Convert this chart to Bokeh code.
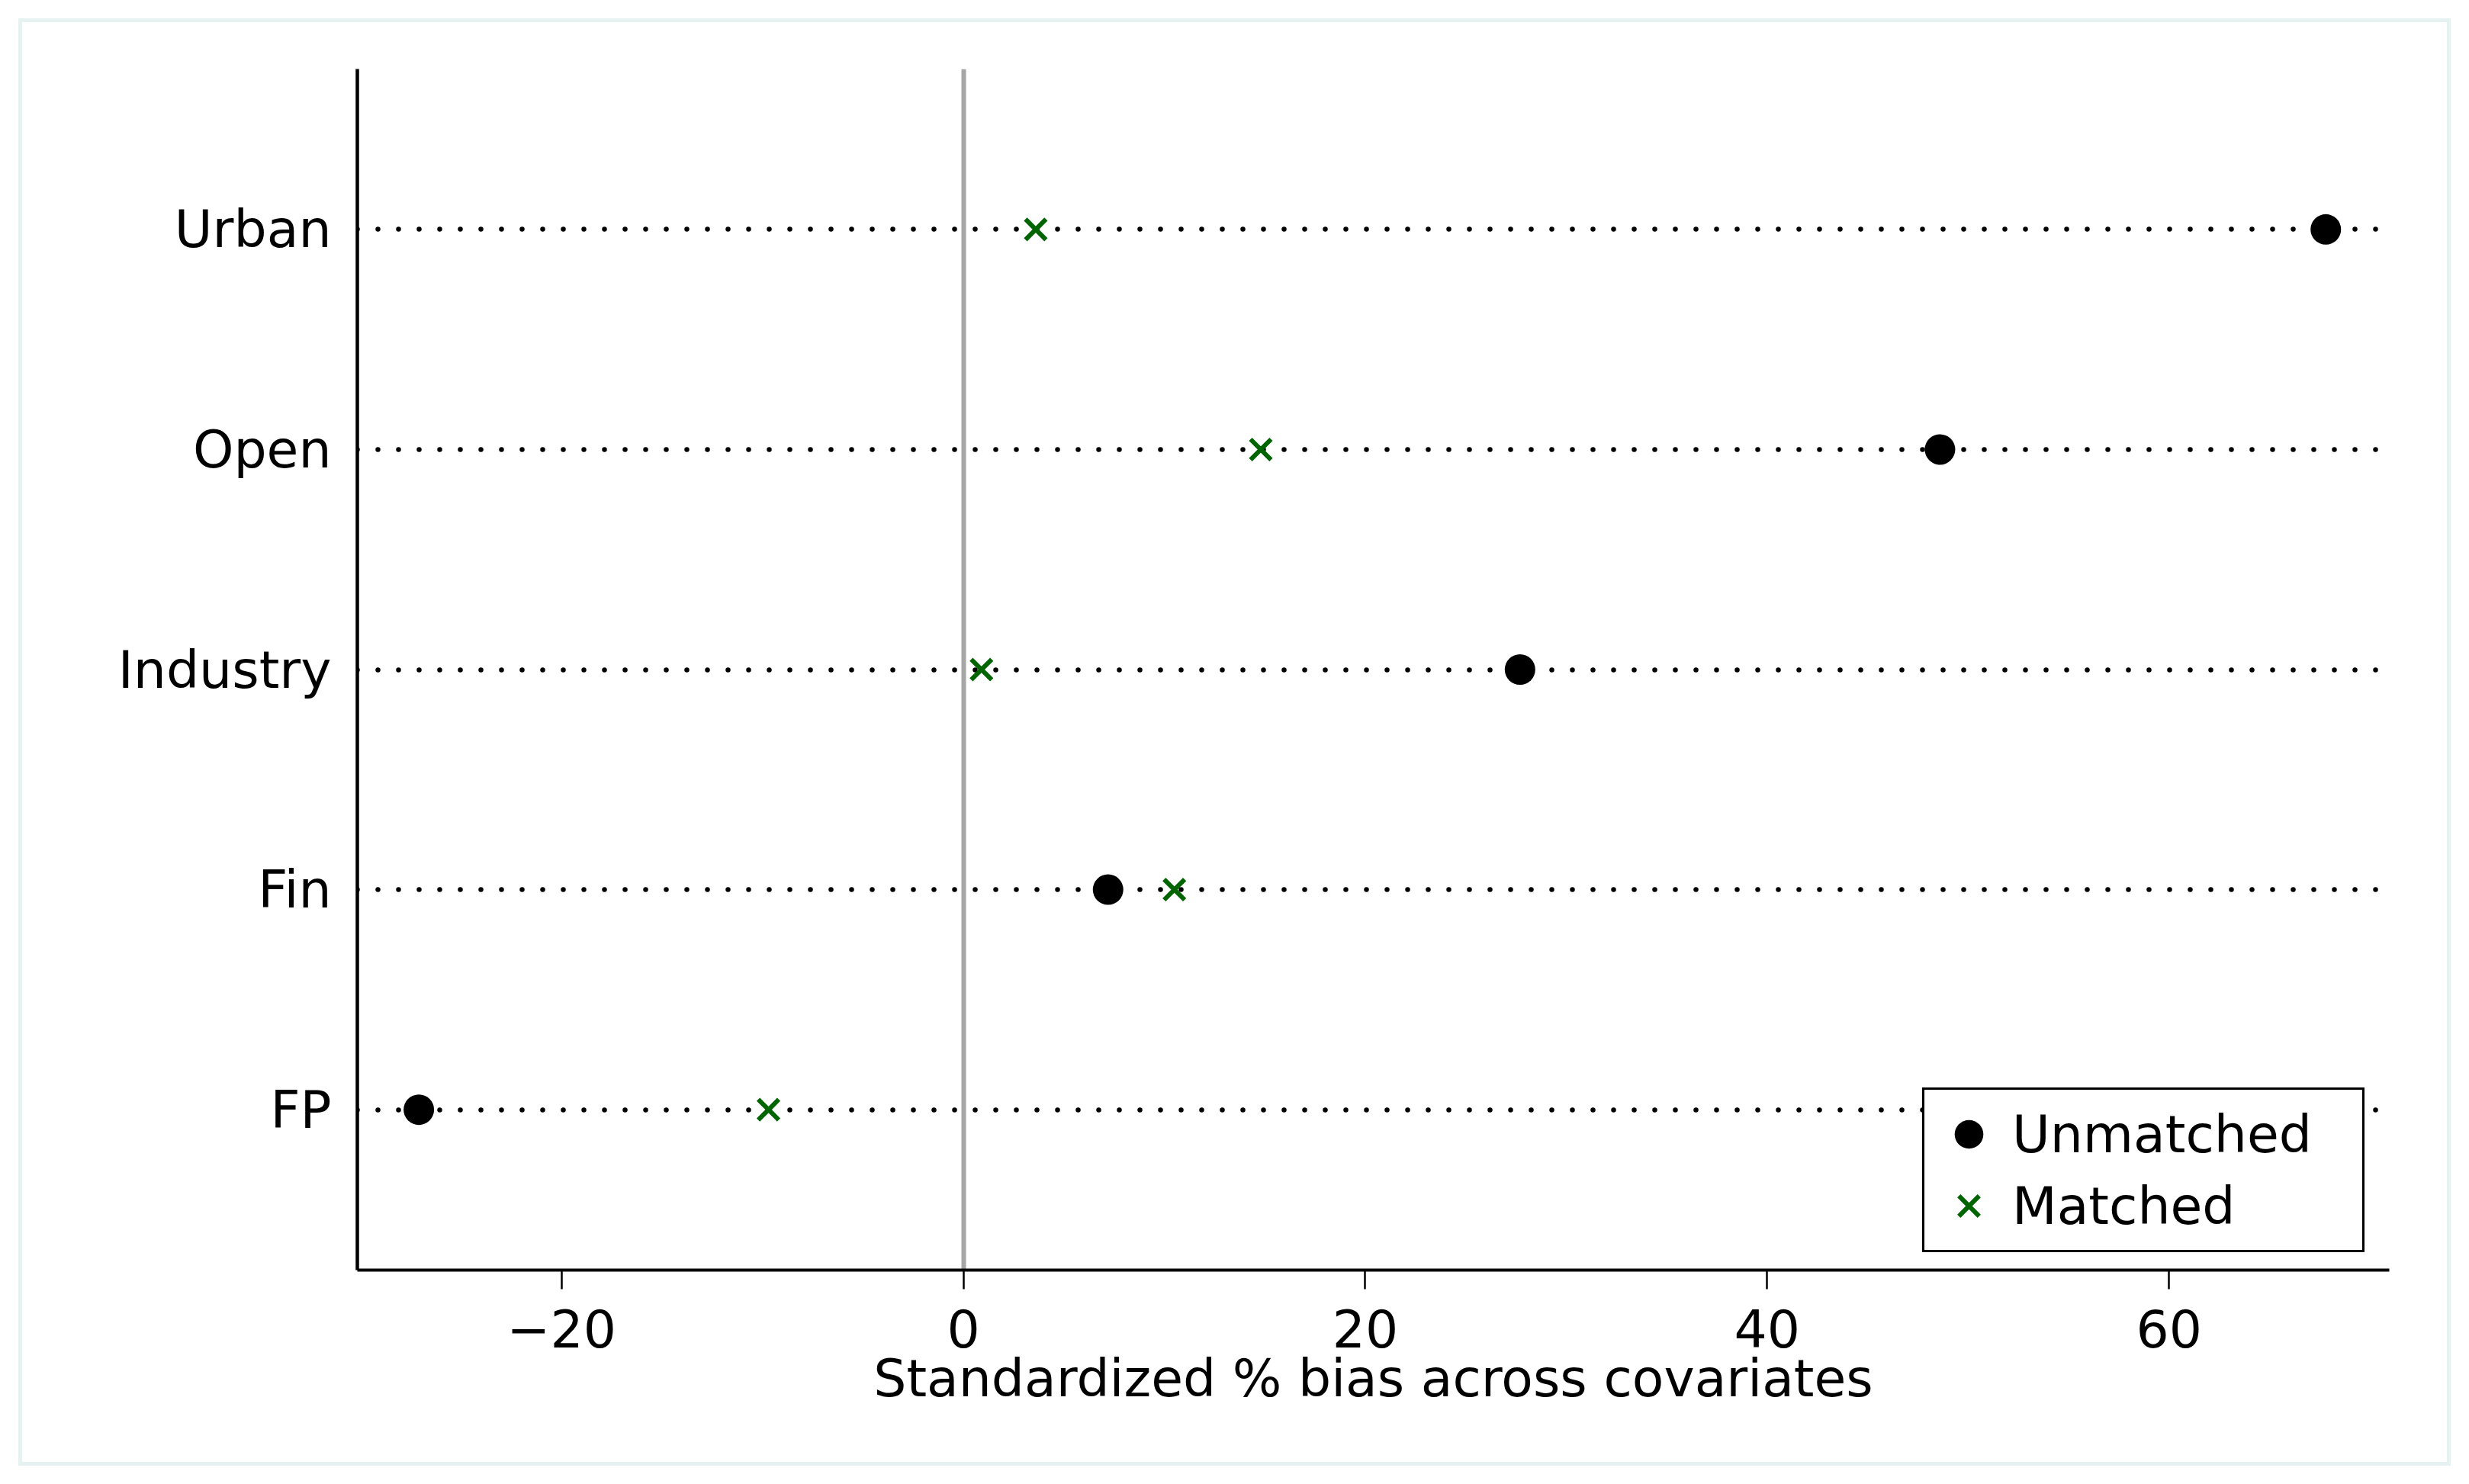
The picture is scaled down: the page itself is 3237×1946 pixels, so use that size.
from bokeh.plotting import figure
from bokeh.models import Range1d, FactorRange, FixedTicker, Legend, LegendItem
from bokeh.embed import file_html
from bokeh.resources import INLINE

# ---- data ----
categories = ["FP", "Fin", "Industry", "Open", "Urban"]
unmatched = [-27.1, 7.2, 27.7, 48.6, 67.8]
matched = [-9.7, 10.5, 0.9, 14.8, 3.6]
series_names = ["Unmatched", "Matched"]
x_ticks = [-20, 0, 20, 40, 60]
x_tick_labels = ["\u221220", "0", "20", "40", "60"]
x_title = "Standardized % bias across covariates"
reference_x = [0]

FONT = "DejaVu Sans"
FS = "68px"

p = figure(
    width=3237, height=1946,
    output_backend="svg", toolbar_location=None,
    x_range=Range1d(-30.16, 70.96),
    y_range=FactorRange(factors=categories, range_padding=0.229, range_padding_units="absolute"),
    min_border_left=468, min_border_right=105, min_border_top=90, min_border_bottom=281,
)
p.border_fill_color = None
p.background_fill_color = "white"
p.outline_line_color = None
p.xgrid.visible = False
p.ygrid.visible = False
p.styles = {"outline": "5px solid #e6f2f2", "outline-offset": "-29px"}

# x axis
xa = p.xaxis[0]
xa.ticker = FixedTicker(ticks=x_ticks)
xa.major_label_overrides = dict(zip(x_ticks, x_tick_labels))
xa.axis_line_color = "black"
xa.axis_line_width = 4
xa.major_tick_out = 25
xa.major_tick_in = 0
xa.major_tick_line_width = 2.5
xa.major_tick_line_color = "black"
xa.minor_tick_out = 0
xa.minor_tick_in = 0
xa.major_label_text_font = FONT
xa.major_label_text_font_size = FS
xa.major_label_text_color = "black"
xa.major_label_standoff = 26
xa.axis_label = x_title
xa.axis_label_text_font = FONT
xa.axis_label_text_font_size = FS
xa.axis_label_text_font_style = "normal"
xa.axis_label_text_color = "black"
xa.axis_label_standoff = -2

# y axis
ya = p.yaxis[0]
ya.axis_line_color = "black"
ya.axis_line_width = 4.5
ya.major_tick_out = 0
ya.major_tick_in = 0
ya.minor_tick_out = 0
ya.minor_tick_in = 0
ya.major_label_text_font = FONT
ya.major_label_text_font_size = FS
ya.major_label_text_color = "black"
ya.major_label_standoff = 34

# reference line at zero and dotted guide lines
p.vspan(x=reference_x, line_color="#a6a6a6", line_width=6, level="underlay")
p.hspan(y=categories, line_color="black", line_width=6.5, line_dash="0 27",
        line_cap="round", level="underlay")

# markers
r_un = p.scatter(x=unmatched, y=categories, marker="circle", size=40,
                 fill_color="black", line_color="black", line_width=0)
r_m = p.scatter(x=matched, y=categories, marker="x", size=38,
                line_width=6, line_color="#006400")

legend = Legend(
    items=[LegendItem(label=series_names[0], renderers=[r_un]),
           LegendItem(label=series_names[1], renderers=[r_m])],
    location=(2052, 23), orientation="vertical",
    border_line_color="black", border_line_width=3, border_line_alpha=1,
    background_fill_color="white", background_fill_alpha=1,
    padding=11, spacing=0, margin=0,
    glyph_width=94, glyph_height=94, label_height=94, label_width=448,
    label_standoff=10,
    label_text_font=FONT, label_text_font_size=FS, label_text_color="black",
)
p.add_layout(legend)

open("out.html", "w").write(file_html(p, INLINE))
